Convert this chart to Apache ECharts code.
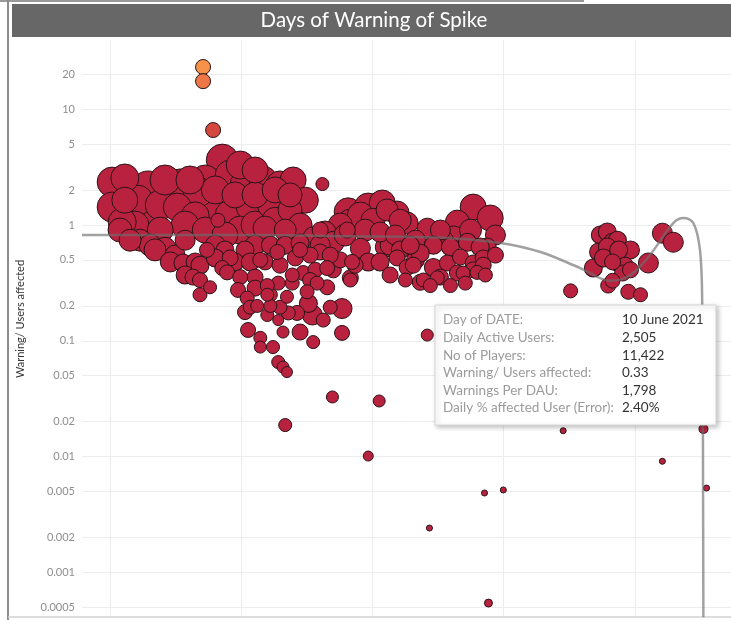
<!DOCTYPE html>
<html lang="en">
<head>
<meta charset="UTF-8">
<title>Days of Warning of Spike</title>
<script src="https://cdn.jsdelivr.net/npm/echarts@6/dist/echarts.min.js"></script>
</head>
<body style="margin:0;padding:0;background:#fff">
<div id="main" style="width:731px;height:620px;"></div>
<script>
// day index (x), Warning/ Users affected (y, log), No of Players (bubble size)
var days = [
    30.4, 30.4, 38.6, 39.1, 45.9, 51.7, 55.6, 57.4, 60.8, 64.9, 68.8, 71.8, 53.3, 62.0, 45.3, 49.4, 57.4, 66.6, 71.1, 35.6,
    41.4, 59.7, 65.4, 70.0, 33.3, 43.7, 50.1, 54.0, 58.5, 63.1, 67.7, 54.6, 78.5, 48.2, 32.7, 32.2,
    36.8, 39.1, 42.5, 44.8, 46.6, 48.9, 50.5, 52.8, 52.1, 55.6, 56.7, 59.7, 63.1, 63.1, 64.3, 49.4, 47.1, 54.0, 56.2, 60.8,
    57.4, 63.1, 66.6, 70.0, 73.4, 68.2, 73.4, 78.0, 84.2, 78.0,
    33.3, 36.3, 41.4, 47.1, 51.7, 56.2, 63.1, 67.7, 73.4, 74.6, 71.1, 42.5, 59.7, 63.1, 34.5, 40.2, 43.7, 47.1, 50.5, 54.0,
    58.5, 62.0, 65.4, 68.8, 72.3, 75.7, 59.2, 61.3, 50.5, 66.6,
    60.8, 62.0, 65.9, 68.4, 63.6, 61.5, 64.3, 64.3, 67.2, 69.5, 70.7, 73.4, 76.4, 72.7, 75.3, 76.2, 78.7, 83.0, 83.0, 68.4,
    69.5, 70.4, 80.8, 70.0, 71.6, 68.4, 65.9, 71.6, 74.1, 76.9, 79.6, 84.9, 77.3, 75.0, 80.3, 68.8, 66.6, 65.9, 70.4, 85.3,
    84.4, 89.0, 92.2, 95.6, 97.9, 102.5, 109.4, 113.0, 116.9, 84.9, 90.1, 79.1, 76.4, 81.0, 87.2, 92.9, 96.3, 103.9, 107.8, 111.7,
    116.2, 99.8, 103.9, 107.1, 110.1, 113.0, 115.3, 100.9, 105.5, 109.4, 113.0, 84.9, 81.0, 82.6, 89.0, 95.6, 97.9, 75.7, 79.6, 93.3,
    96.3, 106.2, 108.5, 114.6, 94.0, 101.6, 104.8, 110.7, 113.9, 99.3, 115.3, 100.9, 87.2, 98.6,
    78.0, 83.7, 88.3, 91.7, 95.2, 99.8, 105.5, 112.4, 118.1, 118.1, 86.0, 91.7, 94.0, 97.5, 103.2, 107.8, 111.2, 115.8, 80.3, 82.6,
    142.1, 143.7, 144.9, 146.0, 141.7, 143.7, 149.0, 146.0, 147.8, 153.1, 140.5, 144.9, 147.2, 149.0, 148.5, 151.3, 135.3, 156.3, 158.8, 143.9,
    142.8, 146.3, 144.9,
    102.5, 91.5, 89.0, 103.0, 115.6, 119.9, 116.5, 133.6, 156.3, 166.4, 165.7,
    51.2, 51.2, 53.5
];
var warnRatio = [
    2.35, 1.43, 2.09, 1.24, 2.22, 2.45, 3.64, 2.70, 2.22, 2.45, 2.22, 2.45, 1.49, 1.43, 1.43, 1.20, 1.22, 1.49, 1.35, 1.00,
    0.905, 0.905, 0.94, 0.905, 1.64, 1.82, 1.93, 2.01, 1.82, 1.82, 2.01, 1.10, 2.26, 2.45, 1.06, 0.905,
    0.74, 0.67, 0.63, 0.55, 0.47, 0.355, 0.335, 0.29, 0.61, 0.425, 0.39, 0.355, 0.355, 0.285, 0.50, 0.48, 0.74, 0.67, 0.61, 0.61,
    0.52, 0.67, 0.67, 0.67, 0.70, 0.585, 0.61, 0.585, 0.905, 0.905,
    2.55, 1.64, 1.49, 1.00, 0.905, 0.82, 1.00, 1.10, 1.00, 1.64, 1.82, 2.45, 3.30, 2.99, 0.74, 0.61, 0.48, 0.37, 0.45, 0.52,
    0.48, 0.48, 0.48, 0.45, 0.52, 0.55, 0.275, 0.234, 0.25, 0.25,
    0.177, 0.195, 0.167, 0.151, 0.20, 0.124, 0.106, 0.0883, 0.0883, 0.119, 0.174, 0.119, 0.0975, 0.174, 0.21, 0.167, 0.151, 0.19, 0.117, 0.0655,
    0.0593, 0.0537, 0.0327, 0.0187, 0.315, 0.315, 0.30, 0.37, 0.385, 0.41, 0.425, 0.335, 0.315, 0.265, 0.195, 0.195, 0.20, 0.25, 0.24, 0.48,
    1.30, 1.43, 1.55, 1.27, 1.04, 0.94, 1.06, 1.43, 1.15, 1.06, 1.10, 0.87, 0.79, 0.71, 0.63, 0.645, 0.61, 0.67, 0.645, 0.71,
    0.645, 0.50, 0.43, 0.47, 0.53, 0.47, 0.52, 0.32, 0.355, 0.385, 0.41, 0.35, 0.41, 0.50, 0.48, 0.52, 0.43, 0.335, 0.29, 1.35,
    1.10, 0.74, 0.79, 0.645, 0.67, 0.335, 0.35, 0.385, 0.39, 0.45, 0.45, 0.57, 1.22, 0.67,
    0.67, 0.82, 0.905, 0.87, 0.82, 0.74, 0.905, 0.905, 0.82, 0.55, 0.45, 0.48, 0.37, 0.335, 0.30, 0.30, 0.315, 0.37, 0.55, 1.00,
    0.82, 0.87, 0.71, 0.74, 0.585, 0.645, 0.61, 0.48, 0.45, 0.47, 0.425, 0.33, 0.385, 0.41, 0.265, 0.25, 0.27, 0.85, 0.71, 0.30,
    0.52, 0.61, 0.48,
    0.112, 0.0302, 0.0101, 0.00241, 0.00484, 0.00514, 0.000542, 0.0167, 0.0091, 0.00534, 0.0173,
    23.2, 17.5, 6.62
];
var players = [
    46700, 46700, 60000, 46700, 53100, 46700, 53100, 46700, 46700, 40700, 40700, 35100, 46700, 40700, 40700, 40700, 46700, 35100, 29900, 40700,
    35100, 40700, 29900, 25100, 35100, 46700, 46700, 40700, 35100, 35100, 35100, 10200, 8800, 40700, 40700, 29900,
    25100, 25100, 25100, 20800, 16800, 13300, 11700, 8800, 11700, 11700, 11700, 11700, 13300, 13300, 11700, 16800, 20800, 20800, 16800, 16800,
    13300, 20800, 16800, 16800, 16800, 11700, 11700, 13300, 13300, 13300,
    40700, 46700, 46700, 40700, 35100, 35100, 40700, 35100, 29900, 35100, 29900, 46700, 40700, 35100, 25100, 25100, 20800, 16800, 16800, 16800,
    16800, 16800, 13300, 13300, 13300, 13300, 11700, 10200, 10200, 10200,
    11700, 10200, 8800, 6300, 8800, 11700, 8800, 7500, 8800, 7500, 10200, 13300, 8800, 11700, 16800, 20800, 10200, 20800, 11700, 8800,
    7500, 6300, 7500, 8800, 10200, 10200, 10200, 10200, 11700, 11700, 11700, 10200, 10200, 10200, 10200, 10200, 8800, 8800, 8800, 11700,
    40700, 40700, 35100, 29900, 25100, 20800, 29900, 35100, 35100, 35100, 29900, 25100, 20800, 25100, 20800, 20800, 16800, 16800, 16800, 16800,
    16800, 16800, 16800, 13300, 13300, 13300, 13300, 13300, 13300, 13300, 13300, 13300, 13300, 13300, 16800, 13300, 13300, 11700, 11700, 25100,
    25100, 20800, 25100, 16800, 20800, 10200, 10200, 10200, 10200, 13300, 13300, 16800, 35100, 16800,
    20800, 25100, 25100, 20800, 20800, 20800, 20800, 25100, 20800, 13300, 13300, 16800, 13300, 10200, 10200, 10200, 10200, 10200, 13300, 29900,
    16800, 16800, 16800, 16800, 16800, 16800, 16800, 16800, 13300, 20800, 16800, 11422, 13300, 13300, 11700, 10200, 10200, 20800, 20800, 11700,
    16800, 16800, 13300,
    7500, 7500, 5200, 1900, 1900, 1900, 3300, 1900, 1900, 1900, 4200,
    11700, 11700, 11700
];

// polynomial trend line
var trendDays = [23.5, 39.1, 62.0, 84.9, 107.8, 119.2, 128.4, 137.5, 144.4, 149.0, 153.6, 158.8, 161.2, 163.4, 164.9, 165.4, 165.7];
var trendRatio = [0.82, 0.82, 0.82, 0.80, 0.77, 0.70, 0.585, 0.425, 0.33, 0.37, 0.56, 1.04, 1.15, 1.04, 0.61, 0.225, 0.0002];

var yTicks = [20, 10, 5, 2, 1, 0.5, 0.2, 0.1, 0.05, 0.02, 0.01, 0.005, 0.002, 0.001, 0.0005];
var xGrid = [30, 60, 90, 120, 150];

var tipLabels = ['Day of DATE:', 'Daily Active Users:', 'No of Players:', 'Warning/ Users affected:', 'Warnings Per DAU:', 'Daily % affected User (Error):'];
var tipValues = ['10 June 2021', '2,505', '11,422', '0.33', '1,798', '2.40%'];

// larger bubbles are drawn first so the small ones stay visible
var points = days.map(function (d, i) { return [d, warnRatio[i], players[i]]; });
points.sort(function (a, b) { return b[2] - a[2]; });
var trend = trendDays.map(function (d, i) { return [d, trendRatio[i]]; });

var font = 'Lato, "Open Sans", sans-serif';

var tipChildren = [{
    type: 'rect',
    z: 100,
    shape: { x: 0, y: 0, width: 281, height: 120 },
    style: { fill: '#fff', stroke: '#d6d6d6', lineWidth: 1, shadowBlur: 5, shadowOffsetX: 2, shadowOffsetY: 2, shadowColor: 'rgba(0,0,0,0.25)' }
}];
tipLabels.forEach(function (t, i) {
    tipChildren.push({ type: 'text', z: 101, x: 8, y: 15 + i * 17.6,
        style: { text: t, fill: '#9b9b9b', font: '13.5px ' + font, verticalAlign: 'middle' } });
    tipChildren.push({ type: 'text', z: 101, x: 187, y: 15 + i * 17.6,
        style: { text: tipValues[i], fill: '#333', font: '13.5px ' + font, verticalAlign: 'middle' } });
});

var myChart = echarts.init(document.getElementById('main'));
var option = {
    animation: false,
    grid: { left: 82, right: 0, top: 40, bottom: 4 },
    xAxis: {
        type: 'value',
        min: 23.5,
        max: 172,
        axisLine: { show: false },
        axisTick: { show: false, customValues: xGrid },
        axisLabel: { show: false },
        splitLine: { show: true, lineStyle: { color: '#ededed', width: 1 } }
    },
    yAxis: {
        type: 'log',
        logBase: 10,
        min: 0.000419,
        max: 39.7,
        axisLine: { show: false },
        axisTick: { show: false, customValues: yTicks },
        axisLabel: {
            customValues: yTicks,
            color: '#8e8e8e',
            fontSize: 11,
            fontFamily: font,
            margin: 7,
            formatter: function (v) { return String(+(+v).toPrecision(2)); }
        },
        splitLine: { show: true, lineStyle: { color: '#ededed', width: 1 } }
    },
    visualMap: {
        show: false,
        type: 'piecewise',
        dimension: 1,
        seriesIndex: 0,
        pieces: [
            { lt: 4, color: '#b9223f' },
            { gte: 4, lt: 10, color: '#d4473f' },
            { gte: 10, lt: 20, color: '#ee7747' },
            { gte: 20, color: '#f7924a' }
        ]
    },
    series: [{
        type: 'scatter',
        data: points,
        symbolSize: function (v) { return 34 * Math.sqrt(v[2] / 60000); },
        itemStyle: { borderColor: '#2a1418', borderWidth: 1, opacity: 1 },
        z: 2
    }, {
        type: 'line',
        data: trend,
        smooth: 0.35,
        showSymbol: false,
        lineStyle: { color: 'rgba(110,110,110,0.65)', width: 2.5 },
        z: 3
    }],
    graphic: [
        { type: 'line', shape: { x1: 0, y1: 1, x2: 584, y2: 1 }, style: { stroke: '#777', lineWidth: 1.5 } },
        { type: 'line', shape: { x1: 8, y1: 0, x2: 8, y2: 620 }, style: { stroke: '#8c8c8c', lineWidth: 2 } },
        { type: 'line', shape: { x1: 8, y1: 617, x2: 731, y2: 617 }, style: { stroke: '#d2d2d2', lineWidth: 1.5 } },
        { type: 'rect', shape: { x: 12, y: 4, width: 719, height: 33 }, style: { fill: '#676767' } },
        { type: 'text', x: 374, y: 20.5, style: { text: 'Days of Warning of Spike', fill: '#fff', font: '20.5px ' + font, align: 'center', verticalAlign: 'middle' } },
        { type: 'text', x: 20, y: 319, rotation: Math.PI / 2, style: { text: 'Warning/ Users affected', fill: '#333', font: '11px ' + font, align: 'center', verticalAlign: 'middle' } },
        { type: 'group', x: 435, y: 305, children: tipChildren }
    ]
};
myChart.setOption(option);
</script>
</body>
</html>
